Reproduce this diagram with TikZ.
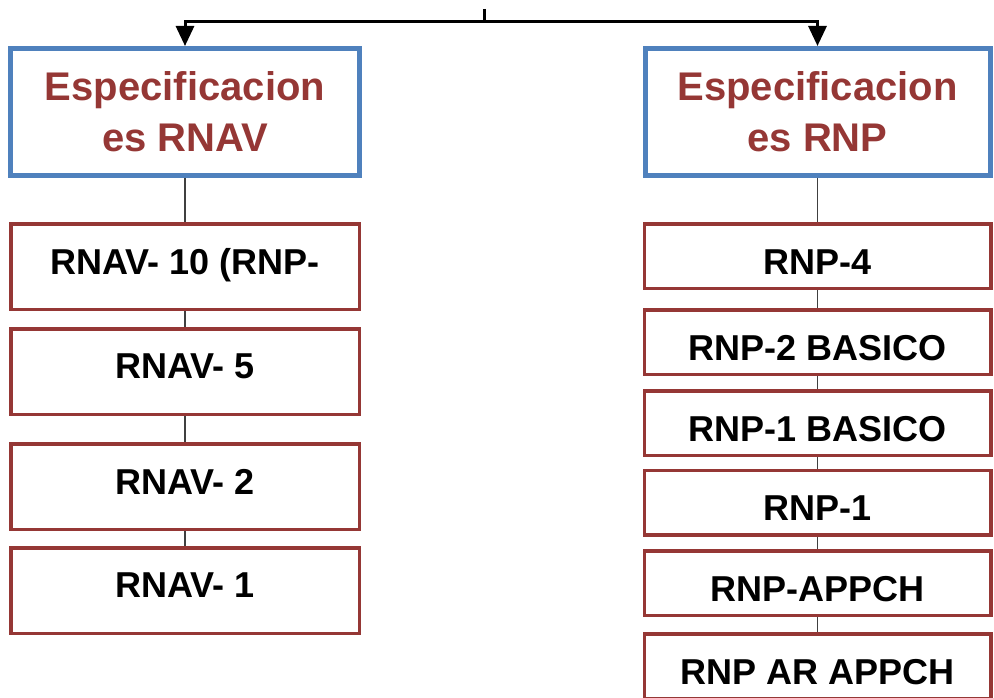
\documentclass[tikz,border=0pt]{standalone}
\usepackage{fontspec}
\setmainfont{Liberation Sans}
\usetikzlibrary{arrows.meta}
\definecolor{specblue}{RGB}{79,129,189}
\definecolor{specred}{RGB}{149,55,53}
\tikzstyle{specbox} = [rectangle, draw=specblue, line width=5pt, minimum height=127pt, inner sep=0pt, align=center, text=specred, font=\fontsize{40}{51}\selectfont\bfseries]
\tikzstyle{rnavbox} = [rectangle, draw=specred, line width=3.5pt, minimum width=348.5pt, minimum height=85.5pt, inner sep=0pt, text depth=10pt, font=\fontsize{36}{43}\selectfont\bfseries]
\tikzstyle{rnpbox} = [rectangle, draw=specred, line width=3.5pt, minimum width=346.5pt, minimum height=64.5pt, inner sep=0pt, text height=36pt, text depth=0pt, font=\fontsize{36}{43}\selectfont\bfseries]
\tikzstyle{link} = [line width=1.2pt, draw=black!75]
\tikzstyle{arrow} = [line width=3pt, -{Triangle[length=20pt,width=18pt]}]

\begin{document}
\begin{tikzpicture}[x=1pt, y=-1pt]
        \useasboundingbox (0,0) rectangle (994,698);
        \clip (0,0) rectangle (994,698);
        \coordinate (stem) at (484,9);
        \coordinate (fork) at (484,22);

        \node (rnav) [specbox, minimum width=349pt] at (185,112) {Especificacion\\es RNAV};
        \node (rnp) [specbox, minimum width=345pt] at (817.5,112) {Especificacion\\es RNP};

        \node (rnav10) [rnavbox] at (185,266.5) {RNAV- 10 (RNP-};
        \node (rnav5) [rnavbox] at (185,371.5) {RNAV- 5};
        \node (rnav2) [rnavbox] at (185,486.5) {RNAV- 2};
        \node (rnav1) [rnavbox] at (185,590.5) {RNAV- 1};

        \node (rnp4) [rnpbox] at (817.5,256) {RNP-4};
        \node (rnp2b) [rnpbox] at (817.5,342) {RNP-2 BASICO};
        \node (rnp1b) [rnpbox] at (817.5,423) {RNP-1 BASICO};
        \node (rnp1) [rnpbox] at (817.5,502.5) {RNP-1};
        \node (rnpapch) [rnpbox] at (817.5,583) {RNP-APPCH};
        \node (rnpar) [rnpbox] at (817.5,666) {RNP AR APPCH};

        \draw [line width=3pt] (stem) -- (fork);
        \draw [arrow] (fork) -| (rnav.north);
        \draw [arrow] (fork) -| (rnp.north);

        \draw [link] (rnav) -- (rnav10);
        \draw [link] (rnav10) -- (rnav5);
        \draw [link] (rnav5) -- (rnav2);
        \draw [link] (rnav2) -- (rnav1);

        \draw [link] (rnp) -- (rnp4);
        \draw [link] (rnp4) -- (rnp2b);
        \draw [link] (rnp2b) -- (rnp1b);
        \draw [link] (rnp1b) -- (rnp1);
        \draw [link] (rnp1) -- (rnpapch);
        \draw [link] (rnpapch) -- (rnpar);
\end{tikzpicture}
\end{document}
